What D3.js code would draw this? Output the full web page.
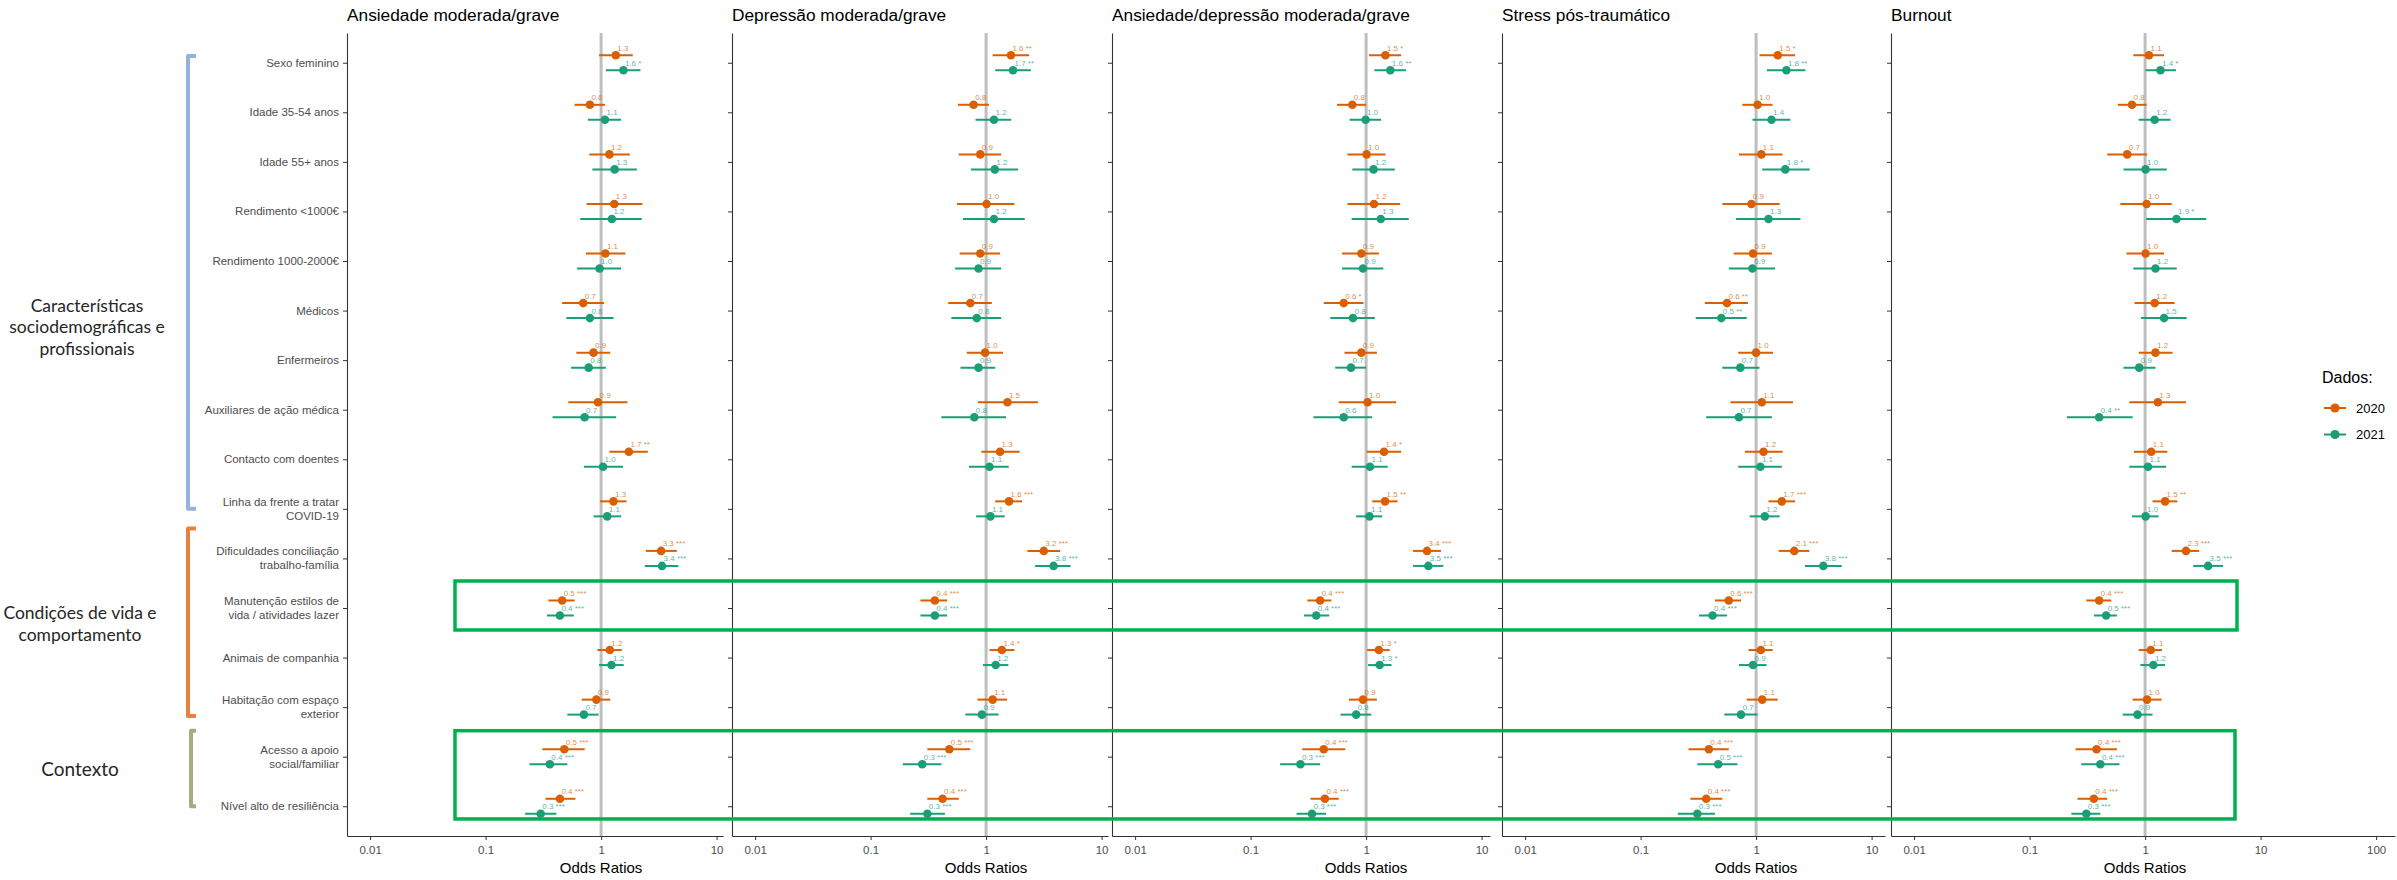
<!DOCTYPE html>
<html>
<head>
<meta charset="utf-8">
<script src="https://cdn.jsdelivr.net/npm/d3@7"></script>
<style>
  body { margin: 0; background: #fff; }
  svg { display: block; font-family: "Liberation Sans", Arial, sans-serif; }
</style>
</head>
<body>
<div id="chart"></div>
<script>
// 1. The data
const rowLabels = [
  "Sexo feminino", "Idade 35-54 anos", "Idade 55+ anos", "Rendimento <1000€",
  "Rendimento 1000-2000€", "Médicos", "Enfermeiros", "Auxiliares de ação médica",
  "Contacto com doentes", "Linha da frente a tratar\nCOVID-19",
  "Dificuldades conciliação\ntrabalho-família", "Manutenção estilos de\nvida / atividades lazer",
  "Animais de companhia", "Habitação com espaço\nexterior", "Acesso a apoio\nsocial/familiar",
  "Nível alto de resiliência"
];
const outcomes = ["Ansiedade moderada/grave", "Depressão moderada/grave",
  "Ansiedade/depressão moderada/grave", "Stress pós-traumático", "Burnout"];
const years = ["2020", "2021"];
const xTicks = [0.01, 0.1, 1, 10, 100];
const groupNames = [["Características", "sociodemográficas e", "profissionais"],
  ["Condições de vida e", "comportamento"], ["Contexto"]];

// [odds ratio, CI low, CI high, significance] per row
const anx2020 = [[1.34,0.96,1.88,""],[0.80,0.59,1.08,""],[1.18,0.79,1.77,""],[1.30,0.75,2.28,""],
  [1.09,0.74,1.62,""],[0.70,0.46,1.06,""],[0.86,0.61,1.20,""],[0.94,0.52,1.69,""],
  [1.74,1.18,2.54,"**"],[1.28,0.98,1.66,""],[3.31,2.44,4.52,"***"],[0.46,0.35,0.59,"***"],
  [1.19,0.93,1.51,""],[0.91,0.68,1.20,""],[0.48,0.31,0.72,"***"],[0.44,0.33,0.60,"***"]];
const anx2021 = [[1.56,1.10,2.19,"*"],[1.08,0.77,1.49,""],[1.31,0.84,2.04,""],[1.24,0.66,2.25,""],
  [0.97,0.62,1.49,""],[0.80,0.50,1.28,""],[0.78,0.55,1.10,""],[0.72,0.38,1.35,""],
  [1.04,0.71,1.55,""],[1.13,0.86,1.49,""],[3.37,2.39,4.67,"***"],[0.44,0.34,0.58,"***"],
  [1.23,0.96,1.57,""],[0.71,0.51,0.95,""],[0.36,0.24,0.51,"***"],[0.30,0.22,0.41,"***"]];
const dep2020 = [[1.64,1.14,2.36,"**"],[0.78,0.57,1.06,""],[0.89,0.58,1.35,""],[1.01,0.56,1.76,""],
  [0.89,0.59,1.32,""],[0.73,0.47,1.12,""],[0.98,0.68,1.40,""],[1.53,0.85,2.81,""],
  [1.32,0.91,1.95,""],[1.58,1.20,2.05,"***"],[3.16,2.28,4.38,"***"],[0.36,0.27,0.46,"***"],
  [1.37,1.07,1.76,"*"],[1.14,0.84,1.52,""],[0.48,0.31,0.73,"***"],[0.42,0.31,0.58,"***"]];
const dep2021 = [[1.71,1.20,2.44,"**"],[1.17,0.81,1.65,""],[1.19,0.74,1.89,""],[1.17,0.63,2.16,""],
  [0.86,0.54,1.35,""],[0.83,0.50,1.35,""],[0.86,0.60,1.20,""],[0.79,0.41,1.49,""],
  [1.07,0.71,1.57,""],[1.09,0.82,1.45,""],[3.84,2.66,5.38,"***"],[0.36,0.27,0.46,"***"],
  [1.21,0.94,1.56,""],[0.92,0.66,1.28,""],[0.28,0.19,0.41,"***"],[0.31,0.22,0.44,"***"]];
const mix2020 = [[1.47,1.06,2.01,"*"],[0.76,0.56,1.00,""],[1.01,0.69,1.47,""],[1.17,0.69,1.97,""],
  [0.91,0.62,1.29,""],[0.64,0.43,0.95,"*"],[0.91,0.65,1.24,""],[1.03,0.58,1.82,""],
  [1.43,1.01,2.01,"*"],[1.46,1.13,1.87,"**"],[3.37,2.55,4.45,"***"],[0.40,0.31,0.50,"***"],
  [1.29,1.02,1.60,"*"],[0.94,0.71,1.24,""],[0.43,0.28,0.66,"***"],[0.44,0.33,0.58,"***"]];
const mix2021 = [[1.62,1.18,2.22,"**"],[0.99,0.72,1.35,""],[1.16,0.76,1.77,""],[1.34,0.75,2.34,""],
  [0.94,0.62,1.41,""],[0.77,0.49,1.19,""],[0.74,0.54,1.00,""],[0.64,0.35,1.13,""],
  [1.08,0.75,1.54,""],[1.07,0.82,1.38,""],[3.46,2.55,4.66,"***"],[0.37,0.29,0.48,"***"],
  [1.31,1.04,1.66,"*"],[0.82,0.60,1.11,""],[0.27,0.18,0.40,"***"],[0.34,0.25,0.45,"***"]];
const ptsd2020 = [[1.54,1.07,2.17,"*"],[1.03,0.76,1.39,""],[1.11,0.71,1.69,""],[0.91,0.51,1.60,""],
  [0.94,0.64,1.37,""],[0.56,0.36,0.85,"**"],[1.00,0.70,1.40,""],[1.12,0.60,2.09,""],
  [1.16,0.80,1.70,""],[1.67,1.28,2.17,"***"],[2.14,1.57,2.89,"***"],[0.58,0.44,0.74,"***"],
  [1.10,0.86,1.39,""],[1.13,0.83,1.54,""],[0.39,0.26,0.58,"***"],[0.37,0.27,0.51,"***"]];
const ptsd2021 = [[1.83,1.24,2.67,"**"],[1.36,0.93,1.98,""],[1.79,1.13,2.91,"*"],[1.28,0.67,2.42,""],
  [0.93,0.58,1.46,""],[0.50,0.30,0.83,"**"],[0.73,0.51,1.07,""],[0.71,0.37,1.37,""],
  [1.09,0.70,1.67,""],[1.19,0.88,1.60,""],[3.82,2.65,5.51,"***"],[0.42,0.32,0.56,"***"],
  [0.94,0.71,1.23,""],[0.74,0.53,1.03,""],[0.47,0.31,0.69,"***"],[0.31,0.21,0.44,"***"]];
const burn2020 = [[1.08,0.79,1.46,""],[0.77,0.58,1.03,""],[0.70,0.47,1.04,""],[1.03,0.61,1.70,""],
  [1.01,0.69,1.46,""],[1.21,0.81,1.80,""],[1.23,0.88,1.73,""],[1.29,0.73,2.26,""],
  [1.13,0.80,1.56,""],[1.49,1.16,1.90,"**"],[2.26,1.70,2.94,"***"],[0.40,0.31,0.51,"***"],
  [1.12,0.88,1.40,""],[1.04,0.78,1.39,""],[0.38,0.25,0.57,"***"],[0.36,0.26,0.47,"***"]];
const burn2021 = [[1.36,1.01,1.85,"*"],[1.21,0.88,1.66,""],[1.01,0.65,1.54,""],[1.87,1.02,3.38,"*"],
  [1.23,0.79,1.88,""],[1.46,0.92,2.29,""],[0.89,0.65,1.23,""],[0.40,0.21,0.78,"**"],
  [1.06,0.73,1.52,""],[1.01,0.77,1.31,""],[3.51,2.61,4.73,"***"],[0.46,0.36,0.57,"***"],
  [1.18,0.91,1.49,""],[0.86,0.64,1.16,""],[0.41,0.28,0.60,"***"],[0.31,0.23,0.41,"***"]];

const results = [[anx2020, anx2021], [dep2020, dep2021], [mix2020, mix2021],
  [ptsd2020, ptsd2021], [burn2020, burn2021]];

// 2. Layout and colours
const WIDTH = 2397, HEIGHT = 880;
const TOP = 33, BOTTOM = 836;
const PX_PER_DECADE = 115.5;
const MIN_LOG = -2.2;
const panelEdges = [[347, 723], [732, 1108], [1112, 1490], [1502, 1885], [1891, 2395]];
const colors = { "2020": "#D95F02", "2021": "#1B9E77" };
const axisColor = "#333333";
const textGrey = "#4D4D4D";

const svg = d3.select("#chart").append("svg")
  .attr("width", WIDTH).attr("height", HEIGHT);
svg.append("rect").attr("width", WIDTH).attr("height", HEIGHT).attr("fill", "#fff");

const y = d3.scalePoint().domain(d3.range(rowLabels.length)).range([TOP, BOTTOM]).padding(0.6);
const dodge = d3.scaleBand().domain(years).range([-15, 15]);
const off = (yr) => dodge(yr) + dodge.bandwidth() / 2;

// 3. One panel per outcome
panelEdges.forEach(([left, right], p) => {
  const maxLog = MIN_LOG + (right - left) / PX_PER_DECADE;
  const x = d3.scaleLog().domain([10 ** MIN_LOG, 10 ** maxLog]).range([left, right]);
  const g = svg.append("g");

  g.append("text").attr("x", left).attr("y", 21)
    .attr("font-size", 17.3).attr("fill", "#000").text(outcomes[p]);

  // reference line at OR = 1
  g.append("line").attr("x1", x(1)).attr("x2", x(1))
    .attr("y1", TOP).attr("y2", BOTTOM)
    .attr("stroke", "#BEBEBE").attr("stroke-width", 3);

  const series = years.map((yr, k) => results[p][k].map((d, i) => ({
    yr, i, or: d[0], lo: d[1], hi: d[2], sig: d[3]
  }))).flat();

  g.selectAll(".ci").data(series).join("line").attr("class", "ci")
    .attr("x1", d => x(d.lo)).attr("x2", d => x(d.hi))
    .attr("y1", d => y(d.i) + off(d.yr)).attr("y2", d => y(d.i) + off(d.yr))
    .attr("stroke", d => colors[d.yr]).attr("stroke-width", 2);

  g.selectAll(".pt").data(series).join("circle").attr("class", "pt")
    .attr("cx", d => x(d.or)).attr("cy", d => y(d.i) + off(d.yr))
    .attr("r", 4.3).attr("fill", d => colors[d.yr]);

  g.selectAll(".lbl").data(series).join("text").attr("class", "lbl")
    .attr("x", d => x(d.or) + 1.5).attr("y", d => y(d.i) + off(d.yr) - 4.5)
    .attr("font-size", 8).attr("fill", d => colors[d.yr]).attr("fill-opacity", 0.75)
    .text(d => d.or.toFixed(1) + (d.sig ? " " + d.sig : ""));

  // axes
  const xAxis = g.append("g").attr("transform", `translate(0,${BOTTOM})`)
    .call(d3.axisBottom(x)
      .tickValues(xTicks.filter(t => t >= 10 ** MIN_LOG && t <= 10 ** maxLog))
      .tickFormat(d3.format("~g")).tickSize(4).tickSizeOuter(0).tickPadding(5.5));
  xAxis.select(".domain").attr("stroke", axisColor).attr("stroke-width", 1.1);
  xAxis.selectAll(".tick line").attr("stroke", axisColor);
  xAxis.selectAll(".tick text").attr("font-size", 11.5).attr("fill", textGrey)
    .attr("font-family", "Liberation Sans, Arial, sans-serif");

  const yAxis = g.append("g").attr("transform", `translate(${left},0)`)
    .call(d3.axisLeft(y).tickFormat("").tickSize(4).tickSizeOuter(0));
  yAxis.select(".domain").attr("stroke", axisColor).attr("stroke-width", 1.1);
  yAxis.selectAll(".tick line").attr("stroke", axisColor);

  g.append("text").attr("x", x(1)).attr("y", 873).attr("text-anchor", "middle")
    .attr("font-size", 15).attr("fill", "#000").text("Odds Ratios");

  // row labels only on the first panel
  if (p === 0) {
    rowLabels.forEach((lab, i) => {
      const lines = lab.split("\n");
      const t = g.append("text").attr("text-anchor", "end")
        .attr("font-size", 11.5).attr("fill", textGrey);
      lines.forEach((ln, j) => {
        t.append("tspan").attr("x", left - 8)
          .attr("y", y(i) - (lines.length - 1) * 7 + j * 14)
          .attr("dominant-baseline", "central").text(ln);
      });
    });
  }
});

// 4. Group brackets and names
const brackets = [
  { top: y(0) - 6.7, bottom: y(9), x: 188, color: "#93B4D8" },
  { top: y(10) - 30, bottom: y(13) + 9, x: 188, color: "#E8803F" },
  { top: y(14) - 26, bottom: y(15), x: 191, color: "#A3AD80" }
];
brackets.forEach(b => {
  svg.append("path")
    .attr("d", `M196,${b.top}H${b.x}V${b.bottom}H196`)
    .attr("fill", "none").attr("stroke", b.color).attr("stroke-width", 4)
    .attr("stroke-linejoin", "round");
});

const groupCenters = [[87, 326.5, 17.5], [80, 623.4, 17.5], [80, 768, 19]];
groupNames.forEach((lines, k) => {
  const [cx, cy, fs] = groupCenters[k];
  const t = svg.append("text").attr("text-anchor", "middle")
    .attr("font-family", "Lato, 'Open Sans', sans-serif")
    .attr("font-size", fs).attr("fill", "#262626");
  lines.forEach((ln, j) => {
    t.append("tspan").attr("x", cx)
      .attr("y", cy - (lines.length - 1) * 10.75 + j * 21.5)
      .attr("dominant-baseline", "central").text(ln);
  });
});

// 5. Green highlight boxes
const boxes = [
  { x1: 455, x2: 2237, y1: y(11) - 27, y2: y(11) + 22 },
  { x1: 455, x2: 2235, y1: y(14) - 26, y2: y(15) + 12.7 }
];
boxes.forEach(b => {
  svg.append("rect").attr("x", b.x1).attr("y", b.y1)
    .attr("width", b.x2 - b.x1).attr("height", b.y2 - b.y1)
    .attr("fill", "none").attr("stroke", "#00B050").attr("stroke-width", 3.5);
});

// 6. Legend
const legend = svg.append("g");
legend.append("text").attr("x", 2322).attr("y", 382.5)
  .attr("font-size", 16).attr("fill", "#000").text("Dados:");
years.forEach((yr, k) => {
  const ly = 408 + k * 26.5;
  legend.append("line").attr("x1", 2324).attr("x2", 2346).attr("y1", ly).attr("y2", ly)
    .attr("stroke", colors[yr]).attr("stroke-width", 2);
  legend.append("circle").attr("cx", 2335).attr("cy", ly).attr("r", 4.6).attr("fill", colors[yr]);
  legend.append("text").attr("x", 2356).attr("y", ly).attr("dominant-baseline", "central")
    .attr("font-size", 13).attr("fill", "#000").text(yr);
});
</script>
</body>
</html>
